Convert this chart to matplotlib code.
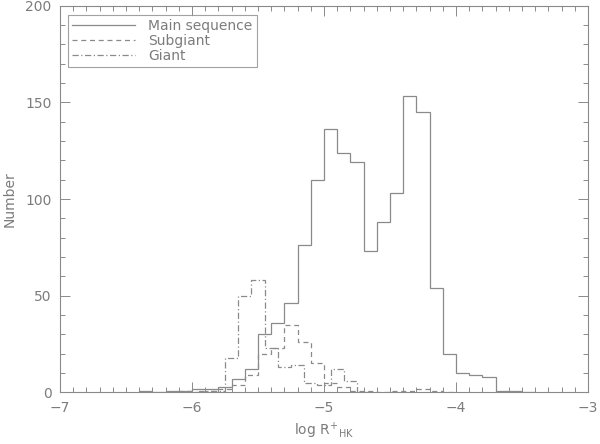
import numpy as np
import matplotlib
matplotlib.use('Agg')
import matplotlib.pyplot as plt
from matplotlib.ticker import MultipleLocator

# bin width 0.1 in log R'HK, counts
main_start = -6.4
main_counts = [1, 0, 1, 1, 2, 2, 3, 7, 12, 30, 36, 46, 76, 110, 136, 124,
               119, 73, 88, 103, 153, 145, 54, 20, 10, 9, 8, 1, 1, 0]

sub_start = -6.1
sub_counts = [1, 0, 1, 2, 4, 9, 20, 23, 35, 26, 15, 5, 3, 1, 1, 0, 1, 1,
              2, 1, 0]

giant_start = -5.95
giant_counts = [1, 1, 18, 50, 58, 23, 13, 14, 5, 4, 12, 6, 0]

labels = ['Main sequence', 'Subgiant', 'Giant']


def edges(start, counts):
    return np.round(start + 0.1 * np.arange(len(counts) + 1), 2)


grey = '#8a8a8a'
txt = '#7c7c7c'
plt.rcParams['font.family'] = 'DejaVu Sans'
plt.rcParams['font.size'] = 10

fig = plt.figure(figsize=(6, 4.44), dpi=100)
ax = fig.add_axes([0.1, 0.116, 0.88, 0.8716])

ax.stairs(main_counts, edges(main_start, main_counts), color=grey, lw=0.9,
          linestyle='-', label=labels[0])
ax.stairs(sub_counts, edges(sub_start, sub_counts), color=grey, lw=0.9,
          linestyle=(0, (4, 3)), label=labels[1])
ax.stairs(giant_counts, edges(giant_start, giant_counts), color=grey, lw=0.9,
          linestyle=(0, (5, 2, 1, 2)), label=labels[2])

ax.set_xlim(-7, -3)
ax.set_ylim(0, 200)
ax.xaxis.set_major_locator(MultipleLocator(1))
ax.xaxis.set_minor_locator(MultipleLocator(0.1))
ax.yaxis.set_major_locator(MultipleLocator(50))
ax.yaxis.set_minor_locator(MultipleLocator(10))
ax.tick_params(which='both', direction='in', top=True, right=True,
               color=grey, labelcolor=txt, labelsize=10, width=0.7)
ax.tick_params(which='major', length=7, pad=6)
ax.tick_params(which='minor', length=3.5)
for s in ax.spines.values():
    s.set_color(grey)
    s.set_linewidth(0.8)

ax.set_xlabel(r"log R$^{+}$$_{\mathregular{HK}}$", color=txt, fontsize=10,
              labelpad=4)
ax.set_ylabel('Number', color=txt, fontsize=10, labelpad=6)

leg = ax.legend(loc='upper left', bbox_to_anchor=(0.015, 0.975),
                frameon=True, fancybox=False, handlelength=4.5,
                handletextpad=1.0, borderpad=0.3, labelspacing=0.05,
                fontsize=10, borderaxespad=0)
leg.get_frame().set_edgecolor(grey)
leg.get_frame().set_linewidth(0.8)
for t in leg.get_texts():
    t.set_color(txt)

fig.savefig('out.png', dpi=100)
